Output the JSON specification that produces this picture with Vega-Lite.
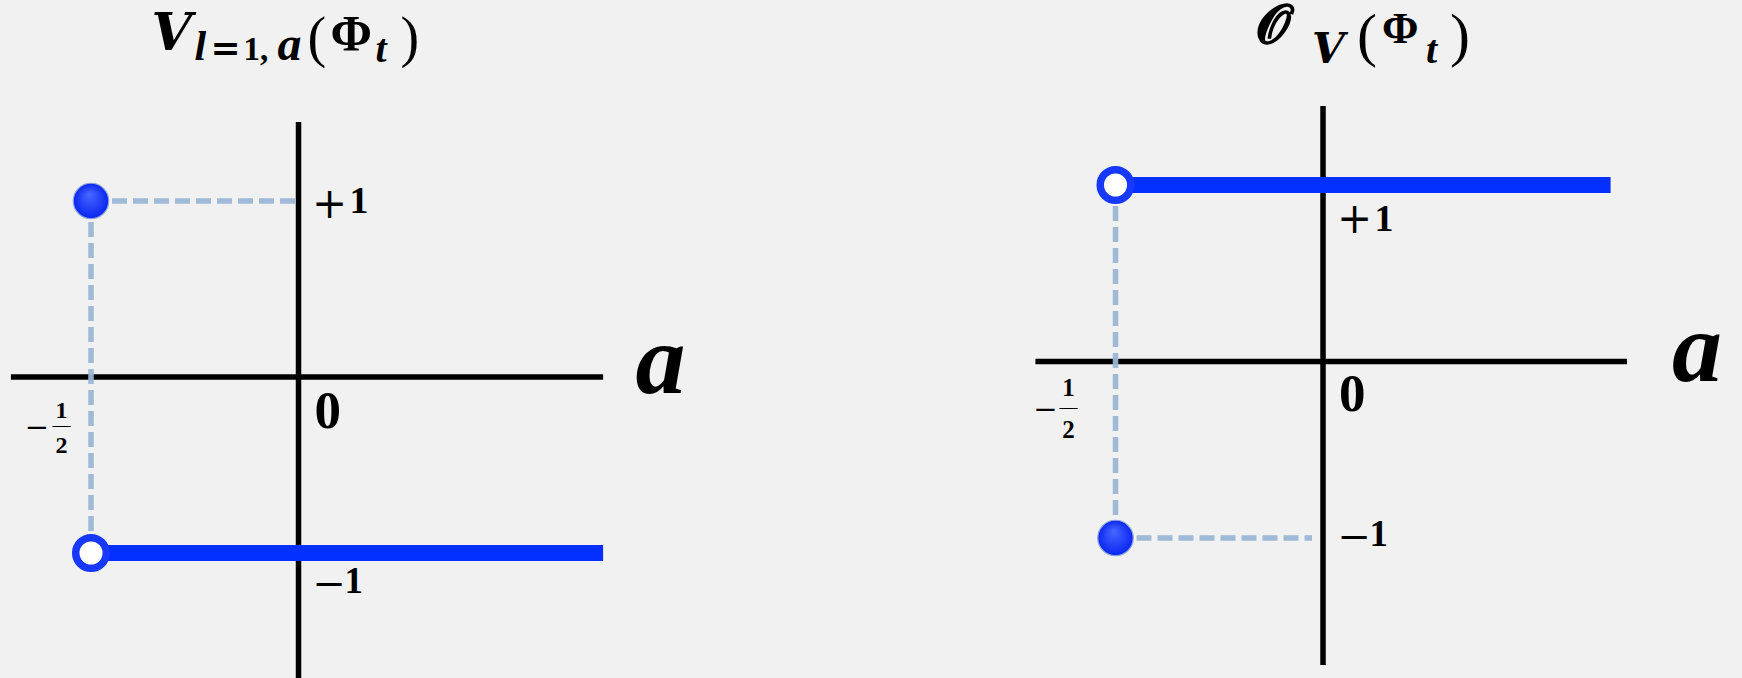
{
  "$schema": "https://vega.github.io/schema/vega-lite/v6.json",
  "background": "#f1f1f1",
  "padding": 0,
  "autosize": {"type": "pad"},
  "bounds": "flush",
  "spacing": 0,
  "config": {
    "view": {"stroke": null},
    "text": {"font": "Liberation Serif", "fontWeight": "bold", "color": "#000000", "align": "left", "baseline": "alphabetic"}
  },
  "hconcat": [
    {
      "width": 871,
      "height": 678,
      "encoding": {
        "x": {"field": "a", "type": "quantitative", "scale": {"domain": [-0.7193, 1.3795], "nice": false, "zero": false}, "axis": null},
        "y": {"field": "v", "type": "quantitative", "scale": {"domain": [-1.7102, 2.142], "nice": false, "zero": false}, "axis": null}
      },
      "layer": [
        {
          "data": {"values": [
            {"a": -0.693, "a2": 0.734, "v": 0, "v2": 0},
            {"a": 0, "a2": 0, "v": 1.449, "v2": -1.7102}
          ]},
          "mark": {"type": "rule", "color": "#000000", "strokeWidth": 5.5, "strokeCap": "butt", "clip": true},
          "encoding": {"x2": {"field": "a2"}, "y2": {"field": "v2"}}
        },
        {
          "data": {"values": [
            {"a": -0.5, "a2": 0, "v": 1, "v2": 1},
            {"a": -0.5, "a2": -0.5, "v": 1, "v2": -1}
          ]},
          "mark": {"type": "rule", "color": "#99b6d4", "strokeWidth": 5.5, "strokeDash": [15, 6], "opacity": 0.95, "strokeCap": "butt"},
          "encoding": {"x2": {"field": "a2"}, "y2": {"field": "v2"}}
        },
        {
          "data": {"values": [{"a": -0.5, "a2": 0.734, "v": -1, "v2": -1}]},
          "mark": {"type": "rule", "color": "#0430ff", "strokeWidth": 16, "strokeCap": "butt"},
          "encoding": {"x2": {"field": "a2"}, "y2": {"field": "v2"}}
        },
        {
          "data": {"values": [{"a": -0.5, "v": 1}]},
          "mark": {"type": "circle", "size": 1257, "opacity": 1, "stroke": "#8aa4d8", "strokeWidth": 1.2,
            "fill": {"gradient": "radial", "x1": 0.45, "y1": 0.3, "r1": 0, "x2": 0.5, "y2": 0.5, "r2": 0.5,
              "stops": [{"offset": 0, "color": "#4a68ff"}, {"offset": 1, "color": "#0a26f2"}]}}
        },
        {
          "data": {"values": [{"a": -0.5, "v": -1}]},
          "mark": {"type": "circle", "size": 935, "opacity": 1, "fill": "#ffffff", "stroke": "#1638ff", "strokeWidth": 7.5}
        },
        {
          "data": {"values": [{"a": 0, "v": 1, "t": "+"}]},
          "mark": {"type": "text", "font": "DejaVu Serif", "fontWeight": "normal", "fontSize": 42, "dx": 13.5, "dy": 17.5},
          "encoding": {"text": {"field": "t"}}
        },
        {
          "data": {"values": [{"a": 0, "v": 1, "t": "1"}]},
          "mark": {"type": "text", "fontSize": 38, "dx": 51, "dy": 12},
          "encoding": {"text": {"field": "t"}}
        },
        {
          "data": {"values": [{"a": 0, "v": 0, "t": "0"}]},
          "mark": {"type": "text", "fontSize": 53, "dx": 16, "dy": 51},
          "encoding": {"text": {"field": "t"}}
        },
        {
          "data": {"values": [{"a": 0, "v": -1, "t": "−"}]},
          "mark": {"type": "text", "font": "DejaVu Serif", "fontWeight": "normal", "fontSize": 40, "dx": 14, "dy": 44.3},
          "encoding": {"text": {"field": "t"}}
        },
        {
          "data": {"values": [{"a": 0, "v": -1, "t": "1"}]},
          "mark": {"type": "text", "fontSize": 37, "dx": 46, "dy": 40},
          "encoding": {"text": {"field": "t"}}
        },
        {
          "data": {"values": [{"a": -0.5, "v": 0, "t": "−"}]},
          "mark": {"type": "text", "font": "DejaVu Serif", "fontWeight": "normal", "fontSize": 29, "align": "center", "dx": -54, "dy": 60.4},
          "encoding": {"text": {"field": "t"}}
        },
        {
          "data": {"values": [{"a": -0.5, "v": 0, "t": "1"}]},
          "mark": {"type": "text", "fontSize": 24, "align": "center", "dx": -29.5, "dy": 41},
          "encoding": {"text": {"field": "t"}}
        },
        {
          "data": {"values": [{"a": -0.5, "v": 0, "t": "—"}]},
          "mark": {"type": "text", "fontSize": 18, "fontWeight": "normal", "align": "center", "dx": -29.5, "dy": 53.7},
          "encoding": {"text": {"field": "t"}}
        },
        {
          "data": {"values": [{"a": -0.5, "v": 0, "t": "2"}]},
          "mark": {"type": "text", "fontSize": 24, "align": "center", "dx": -29.5, "dy": 76},
          "encoding": {"text": {"field": "t"}}
        },
        {
          "data": {"values": [{"a": 0, "v": 0, "t": "a"}]},
          "mark": {"type": "text", "fontSize": 100, "fontStyle": "italic", "dx": 337, "dy": 16},
          "encoding": {"text": {"field": "t"}}
        },
        {
          "data": {"values": [{"a": 0, "v": 1.858, "t": "V"}]},
          "mark": {"type": "text", "font": "DejaVu Serif", "fontSize": 52, "fontStyle": "italic", "dx": -147, "dy": 0, "clip": true},
          "encoding": {"text": {"field": "t"}}
        },
        {
          "data": {"values": [{"a": 0, "v": 1.858, "t": "l"}]},
          "mark": {"type": "text", "fontSize": 42, "fontStyle": "italic", "dx": -104, "dy": 10, "clip": true},
          "encoding": {"text": {"field": "t"}}
        },
        {
          "data": {"values": [{"a": 0, "v": 1.858, "t": "="}]},
          "mark": {"type": "text", "font": "DejaVu Serif", "fontSize": 36, "dx": -88, "dy": 10, "clip": true},
          "encoding": {"text": {"field": "t"}}
        },
        {
          "data": {"values": [{"a": 0, "v": 1.858, "t": "1,"}]},
          "mark": {"type": "text", "fontSize": 33, "dx": -55, "dy": 10, "clip": true},
          "encoding": {"text": {"field": "t"}}
        },
        {
          "data": {"values": [{"a": 0, "v": 1.858, "t": "a"}]},
          "mark": {"type": "text", "fontSize": 48, "fontStyle": "italic", "dx": -21, "dy": 10, "clip": true},
          "encoding": {"text": {"field": "t"}}
        },
        {
          "data": {"values": [{"a": 0, "v": 1.858, "t": "("}]},
          "mark": {"type": "text", "fontSize": 56, "fontWeight": "normal", "dx": 9, "dy": 6, "clip": true},
          "encoding": {"text": {"field": "t"}}
        },
        {
          "data": {"values": [{"a": 0, "v": 1.858, "t": "Φ"}]},
          "mark": {"type": "text", "fontSize": 50, "dx": 32, "dy": 0, "clip": true},
          "encoding": {"text": {"field": "t"}}
        },
        {
          "data": {"values": [{"a": 0, "v": 1.858, "t": "t"}]},
          "mark": {"type": "text", "fontSize": 40, "fontStyle": "italic", "dx": 77, "dy": 12, "clip": true},
          "encoding": {"text": {"field": "t"}}
        },
        {
          "data": {"values": [{"a": 0, "v": 1.858, "t": ")"}]},
          "mark": {"type": "text", "fontSize": 56, "fontWeight": "normal", "dx": 102, "dy": 6, "clip": true},
          "encoding": {"text": {"field": "t"}}
        }
      ]
    },
    {
      "width": 871,
      "height": 678,
      "encoding": {
        "x": {"field": "a", "type": "quantitative", "scale": {"domain": [-1.0892, 1.0096], "nice": false, "zero": false}, "axis": null},
        "y": {"field": "v", "type": "quantitative", "scale": {"domain": [-1.7932, 2.0482], "nice": false, "zero": false}, "axis": null}
      },
      "layer": [
        {
          "data": {"values": [
            {"a": -0.693, "a2": 0.7325, "v": 0, "v2": 0},
            {"a": 0, "a2": 0, "v": 1.448, "v2": -1.7195}
          ]},
          "mark": {"type": "rule", "color": "#000000", "strokeWidth": 5.5, "strokeCap": "butt"},
          "encoding": {"x2": {"field": "a2"}, "y2": {"field": "v2"}}
        },
        {
          "data": {"values": [
            {"a": -0.5, "a2": -0.0265, "v": -1, "v2": -1},
            {"a": -0.5, "a2": -0.5, "v": 1, "v2": -1}
          ]},
          "mark": {"type": "rule", "color": "#99b6d4", "strokeWidth": 5.5, "strokeDash": [15, 6], "opacity": 0.95, "strokeCap": "butt"},
          "encoding": {"x2": {"field": "a2"}, "y2": {"field": "v2"}}
        },
        {
          "data": {"values": [{"a": -0.5, "a2": 0.693, "v": 1, "v2": 1}]},
          "mark": {"type": "rule", "color": "#0430ff", "strokeWidth": 16, "strokeCap": "butt"},
          "encoding": {"x2": {"field": "a2"}, "y2": {"field": "v2"}}
        },
        {
          "data": {"values": [{"a": -0.5, "v": -1}]},
          "mark": {"type": "circle", "size": 1257, "opacity": 1, "stroke": "#8aa4d8", "strokeWidth": 1.2,
            "fill": {"gradient": "radial", "x1": 0.45, "y1": 0.3, "r1": 0, "x2": 0.5, "y2": 0.5, "r2": 0.5,
              "stops": [{"offset": 0, "color": "#4a68ff"}, {"offset": 1, "color": "#0a26f2"}]}}
        },
        {
          "data": {"values": [{"a": -0.5, "v": 1}]},
          "mark": {"type": "circle", "size": 935, "opacity": 1, "fill": "#ffffff", "stroke": "#1638ff", "strokeWidth": 7.5}
        },
        {
          "data": {"values": [{"a": 0, "v": 1, "t": "+"}]},
          "mark": {"type": "text", "font": "DejaVu Serif", "fontWeight": "normal", "fontSize": 42, "dx": 14, "dy": 47.5},
          "encoding": {"text": {"field": "t"}}
        },
        {
          "data": {"values": [{"a": 0, "v": 1, "t": "1"}]},
          "mark": {"type": "text", "fontSize": 38, "dx": 51.5, "dy": 46},
          "encoding": {"text": {"field": "t"}}
        },
        {
          "data": {"values": [{"a": 0, "v": 0, "t": "0"}]},
          "mark": {"type": "text", "fontSize": 53, "dx": 16, "dy": 49.5},
          "encoding": {"text": {"field": "t"}}
        },
        {
          "data": {"values": [{"a": 0, "v": -1, "t": "−"}]},
          "mark": {"type": "text", "font": "DejaVu Serif", "fontWeight": "normal", "fontSize": 40, "dx": 14.5, "dy": 12.3},
          "encoding": {"text": {"field": "t"}}
        },
        {
          "data": {"values": [{"a": 0, "v": -1, "t": "1"}]},
          "mark": {"type": "text", "fontSize": 37, "dx": 46.5, "dy": 8},
          "encoding": {"text": {"field": "t"}}
        },
        {
          "data": {"values": [{"a": -0.5, "v": 0, "t": "−"}]},
          "mark": {"type": "text", "font": "DejaVu Serif", "fontWeight": "normal", "fontSize": 29, "align": "center", "dx": -70, "dy": 57.4},
          "encoding": {"text": {"field": "t"}}
        },
        {
          "data": {"values": [{"a": -0.5, "v": 0, "t": "1"}]},
          "mark": {"type": "text", "fontSize": 25, "align": "center", "dx": -47, "dy": 34.5},
          "encoding": {"text": {"field": "t"}}
        },
        {
          "data": {"values": [{"a": -0.5, "v": 0, "t": "—"}]},
          "mark": {"type": "text", "fontSize": 18, "fontWeight": "normal", "align": "center", "dx": -47, "dy": 51.5},
          "encoding": {"text": {"field": "t"}}
        },
        {
          "data": {"values": [{"a": -0.5, "v": 0, "t": "2"}]},
          "mark": {"type": "text", "fontSize": 25, "align": "center", "dx": -47, "dy": 76},
          "encoding": {"text": {"field": "t"}}
        },
        {
          "data": {"values": [{"a": 0, "v": 0, "t": "a"}]},
          "mark": {"type": "text", "fontSize": 100, "fontStyle": "italic", "dx": 349, "dy": 19, "clip": true},
          "encoding": {"text": {"field": "t"}}
        },
        {
          "data": {"values": [{"a": 0, "v": 1.8045, "t": "𝓞"}]},
          "mark": {"type": "text", "font": "DejaVu Serif", "fontSize": 54, "fontWeight": "bold", "dx": -66, "dy": 0, "clip": true},
          "encoding": {"text": {"field": "t"}}
        },
        {
          "data": {"values": [{"a": 0, "v": 1.8045, "t": "V"}]},
          "mark": {"type": "text", "font": "DejaVu Serif", "fontSize": 42, "fontStyle": "italic", "dx": -11, "dy": 20, "clip": true},
          "encoding": {"text": {"field": "t"}}
        },
        {
          "data": {"values": [{"a": 0, "v": 1.8045, "t": "("}]},
          "mark": {"type": "text", "fontSize": 60, "fontWeight": "normal", "dx": 34, "dy": 12, "clip": true},
          "encoding": {"text": {"field": "t"}}
        },
        {
          "data": {"values": [{"a": 0, "v": 1.8045, "t": "Φ"}]},
          "mark": {"type": "text", "fontSize": 44, "dx": 59, "dy": 0, "clip": true},
          "encoding": {"text": {"field": "t"}}
        },
        {
          "data": {"values": [{"a": 0, "v": 1.8045, "t": "t"}]},
          "mark": {"type": "text", "fontSize": 40, "fontStyle": "italic", "dx": 103, "dy": 20, "clip": true},
          "encoding": {"text": {"field": "t"}}
        },
        {
          "data": {"values": [{"a": 0, "v": 1.8045, "t": ")"}]},
          "mark": {"type": "text", "fontSize": 60, "fontWeight": "normal", "dx": 127, "dy": 12, "clip": true},
          "encoding": {"text": {"field": "t"}}
        }
      ]
    }
  ]
}
